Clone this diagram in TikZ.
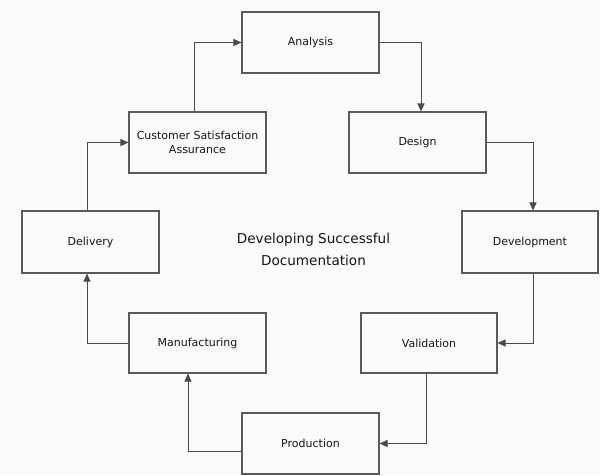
\documentclass[tikz,border=0pt]{standalone}
\usepackage{fontspec}
\setmainfont{DejaVu Sans}
\usetikzlibrary{arrows.meta}
\definecolor{linec}{HTML}{4A4A4A}
\definecolor{boxc}{HTML}{5A5A5A}
\definecolor{textc}{HTML}{151515}
\definecolor{bgc}{HTML}{FAFAFA}
\tikzset{
  box/.style={draw=boxc, line width=1.1pt, fill=bgc, minimum width=137pt, minimum height=61pt,
    inner sep=0pt, align=center, text=textc, font=\fontsize{11}{14}\selectfont},
  conn/.style={draw=linec, line width=1pt, -{Triangle[length=8pt,width=7pt]}},
  titletext/.style={align=center, text=textc, font=\fontsize{13.6}{22}\selectfont}
}
\begin{document}
\begin{tikzpicture}[x=1pt,y=-1pt]
\fill[bgc] (0,0) rectangle (600,475);
\useasboundingbox (0,0) rectangle (600,475);
\node[box] (ana) at (310.5,42.5) {Analysis};
\node[box] (csa) at (197.5,142.5) {Customer Satisfaction\\Assurance};
\node[box] (des) at (417.5,142.5) {Design};
\node[box, minimum height=62pt] (del) at (90.5,242) {Delivery};
\node[box, minimum width=136pt, minimum height=62pt] (dev) at (530,242) {Development};
\node[box, minimum height=60pt] (man) at (197.5,343) {Manufacturing};
\node[box, minimum width=136pt, minimum height=60pt] (val) at (429,343) {Validation};
\node[box] (pro) at (310.5,443.5) {Production};
\node[titletext] (title) at (313.5,249) {Developing Successful\\Documentation};
\draw[conn] ([xshift=-3.5pt]csa.north) |- (ana.west);
\draw[conn] (ana.east) -| ([xshift=3.5pt]des.north);
\draw[conn] (des.east) -| ([xshift=3pt]dev.north);
\draw[conn] ([xshift=3pt]dev.south) |- (val.east);
\draw[conn] ([xshift=-3pt]val.south) |- (pro.east);
\draw[conn] ([yshift=-7.5pt]pro.west) -| ([xshift=-9.5pt]man.south);
\draw[conn] (man.west) -| ([xshift=-3.5pt]del.south);
\draw[conn] ([xshift=-3.5pt]del.north) |- (csa.west);
\end{tikzpicture}
\end{document}
